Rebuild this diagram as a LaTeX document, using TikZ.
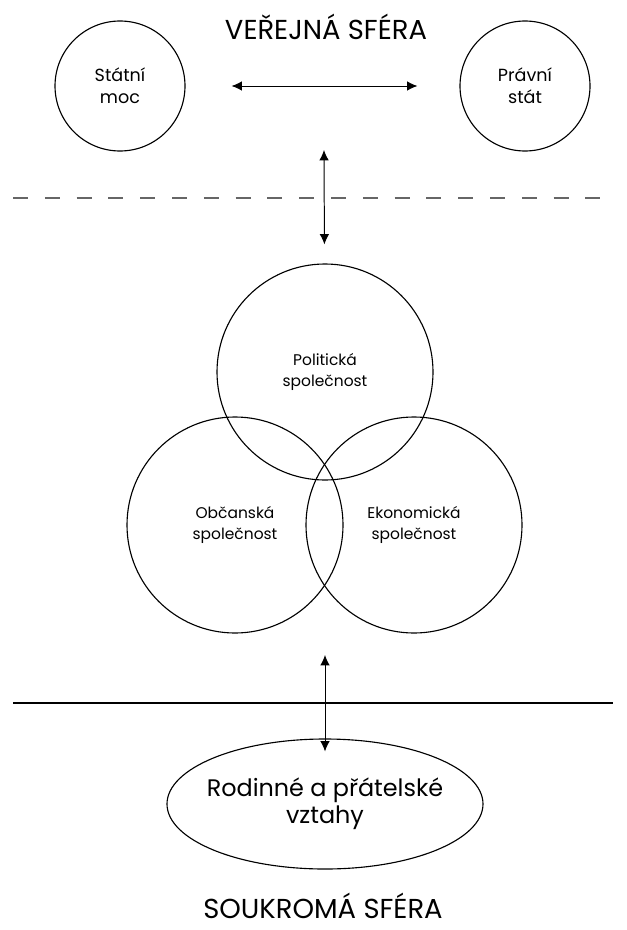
\documentclass[tikz,border=0pt]{standalone}
\usepackage{fontspec}
\setmainfont{Poppins}
\usetikzlibrary{arrows.meta,shapes.geometric}
\tikzset{
  sphere/.style={inner sep=0pt,font=\fontsize{19.5}{24}\selectfont},
  smallcirc/.style={draw,circle,line width=0.8pt,minimum size=32.5mm,inner sep=0pt,align=center,
    font=\fontsize{12.5}{15.5}\selectfont},
  bigcirc/.style={draw,circle,line width=0.8pt,minimum size=54mm,inner sep=0pt,align=center,
    font=\fontsize{11}{14.5}\selectfont},
  family/.style={draw,ellipse,line width=0.8pt,minimum width=79mm,minimum height=32.5mm,inner sep=0pt,
    inner xsep=-8mm,align=center,font=\fontsize{17}{19}\selectfont},
  link/.style={{Latex[length=2.6mm,width=2.4mm]}-{Latex[length=2.6mm,width=2.4mm]},line width=0.7pt},
}
\begin{document}
\begin{tikzpicture}[x=0.25mm,y=-0.25mm]
\useasboundingbox (0,0) rectangle (627,930);
%public sphere
\path (326,27) node[sphere] (pub) {VEŘEJNÁ SFÉRA};
\path (120,86) node[smallcirc] (moc) {Státní\\moc}
	(525,86) node[smallcirc] (stat) {Právní\\stát};
\draw[link, shorten <=11.5mm, shorten >=10.5mm] (moc) -- (stat);
\draw[dashed, dash pattern=on 3.75mm off 4.2mm, gray!80!black, line width=0.8pt] (13,198) -- (613,198);
%society
\path (325,372) node[bigcirc] (pol) {Politická\\společnost}
	(235,525) node[bigcirc] (obc) {Občanská\\společnost}
	(414,525) node[bigcirc] (eko) {Ekonomická\\společnost};
\coordinate (up) at (324,150);
\draw[link, shorten >=4.75mm] (up) -- (pol);
%private sphere
\draw[line width=0.8pt] (13,703) -- (613,703);
\path (325,804) node[family] (rod) {Rodinné a přátelské\\vztahy};
\coordinate (low) at (325,655);
\draw[link] (low) -- ([yshift=-3.25mm]rod.north);
\path (323,906) node[sphere] (priv) {SOUKROMÁ SFÉRA};
\end{tikzpicture}
\end{document}
